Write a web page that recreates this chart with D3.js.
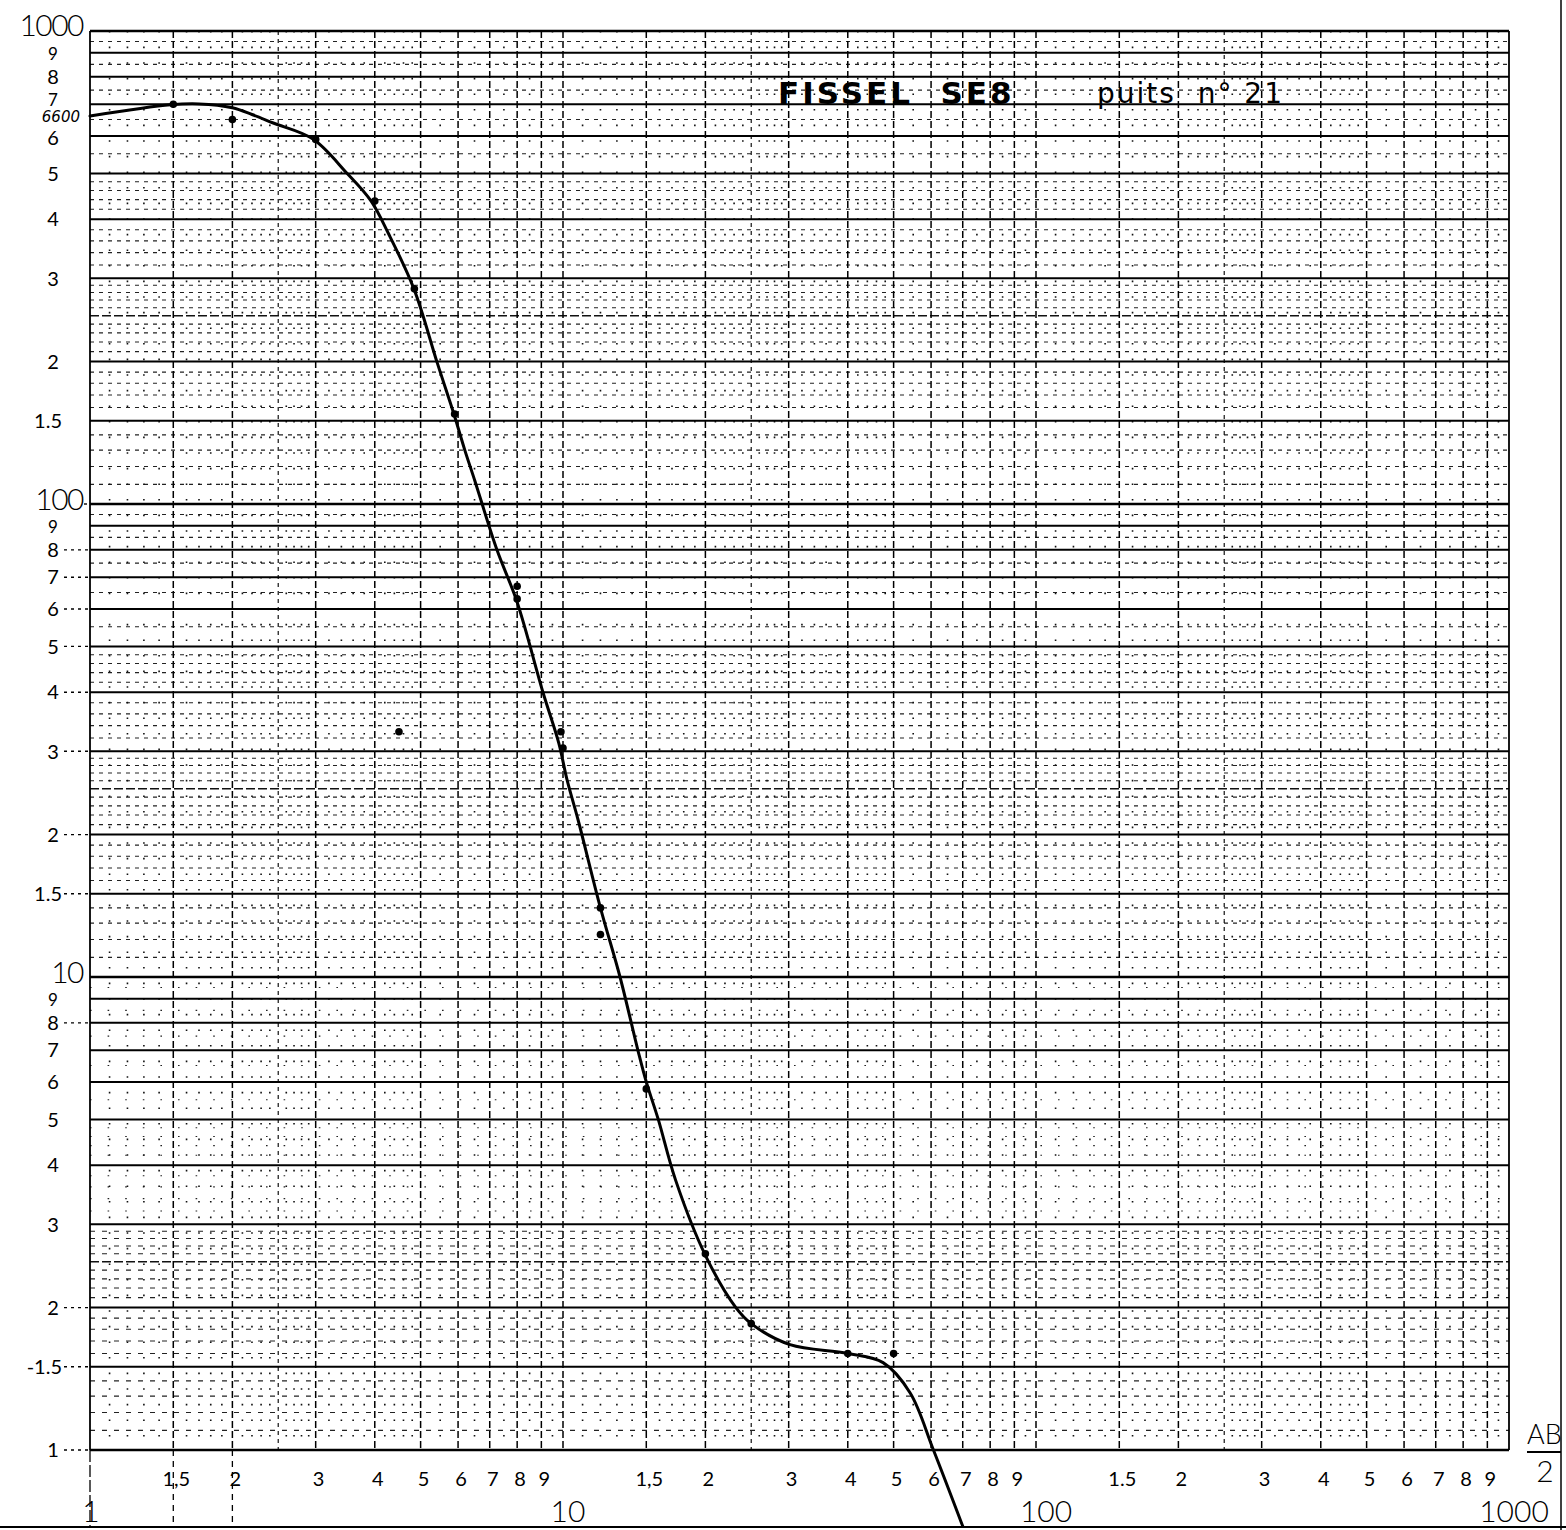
<!DOCTYPE html>
<html>
<head>
<meta charset="utf-8">
<title>FISSEL SE8 - puits n° 21</title>
<script type="text/javascript" src="https://d3js.org/d3.v7.min.js"></script>
<style>
  body { margin: 0; background: #fff; }
  svg { display: block; }
  text { white-space: pre; }
</style>
</head>
<body>
<div id="my_chart"></div>
<script type="text/javascript">
// Sounding curve (AB/2 , apparent resistivity)
var curve_x = [1, 1.48, 1.7, 2, 2.2, 2.44, 2.96, 3.49, 3.93, 4.27, 4.84, 5.42, 5.88, 6.2, 6.51, 7.25, 8, 9.07, 9.8, 10.2, 10.76,
               12, 13.2, 14.4, 15, 15.9, 17.3, 20, 23.2, 25, 30.2, 40, 47.5, 54.2, 60.7, 70];
var curve_y = [661, 698, 701, 688, 666, 639, 591, 501, 437, 374, 285, 199, 155, 130, 112, 80, 62, 40, 31.2, 26.1, 21.5,
               14, 10, 7, 6, 5, 3.72, 2.58, 2.0, 1.85, 1.67, 1.6, 1.53, 1.32, 1.0, 0.69];

// measured points
var point_x = [1.5, 2, 3, 4, 4.85, 5.9, 8, 8, 9.9, 10, 12, 12, 15, 20, 25, 40, 50, 4.5];
var point_y = [700, 650, 590, 437, 285, 155, 67, 63, 33, 30.5, 14, 12.3, 5.8, 2.6, 1.85, 1.6, 1.6, 33];

// graph paper rulings inside one decade
var major_steps = [1, 1.5, 2, 3, 4, 5, 6, 7, 8, 9];
var minor_steps = [1.1, 1.2, 1.3, 1.4, 1.6, 1.7, 1.8, 1.9, 2.1, 2.2, 2.3, 2.4, 2.6, 2.7, 2.8, 2.9,
                   3.2, 3.4, 3.6, 3.8, 4.2, 4.4, 4.6, 4.8, 5.5, 6.5, 7.5, 8.5, 9.5];
var decades = [1, 10, 100];

// tick labels
var left_digit_values = [900, 800, 700, 600, 500, 400, 300, 200, 150,
                         90, 80, 70, 60, 50, 40, 30, 20, 15,
                         9, 8, 7, 6, 5, 4, 3, 2, 1.5, 1];
var left_digit_labels = ["9", "8", "7", "6", "5", "4", "3", "2", "1.5",
                         "9", "8", "7", "6", "5", "4", "3", "2", "1.5",
                         "9", "8", "7", "6", "5", "4", "3", "2", "-1.5", "1"];
var left_big_values = [1000, 100, 10];
var left_big_labels = ["1000", "100", "10"];
var bottom_digit_values = [1.5, 2, 3, 4, 5, 6, 7, 8, 9,
                           15, 20, 30, 40, 50, 60, 70, 80, 90,
                           150, 200, 300, 400, 500, 600, 700, 800, 900];
var bottom_digit_labels = ["1,5", "2", "3", "4", "5", "6", "7", "8", "9",
                           "1,5", "2", "3", "4", "5", "6", "7", "8", "9",
                           "1.5", "2", "3", "4", "5", "6", "7", "8", "9"];
var bottom_big_values = [1, 10, 100, 1000];
var bottom_big_labels = ["1", "10", "100", "1000"];

var svg_size = {width: 1566, height: 1530};
var plot = {left: 90, right: 1509, top: 31, bottom: 1450};

var x_scale = d3.scaleLog().domain([1, 1000]).range([plot.left, plot.right]);
var y_scale = d3.scaleLog().domain([1, 1000]).range([plot.bottom, plot.top]);

var svg = d3.select('#my_chart')
            .append('svg')
            .attr('width', svg_size.width)
            .attr('height', svg_size.height);

// expand steps over the three decades
function expand(steps) {
    var out = [];
    decades.forEach(function(d) {
        steps.forEach(function(s) { out.push(+(d * s).toPrecision(4)); });
    });
    return out;
}
var majors = expand(major_steps).concat([1000]);
var minors = expand(minor_steps);
var halfs = expand([2.5]);

var grid = svg.append('g').attr('class', 'grid');

// horizontal minor rulings (dashed, sparse dots in the lowest decade)
grid.append('g').selectAll('line').data(minors).enter().append('line')
    .attr('x1', plot.left).attr('x2', plot.right)
    .attr('y1', d => y_scale(d)).attr('y2', d => y_scale(d))
    .attr('stroke', '#222').attr('stroke-width', 1.1)
    .attr('stroke-dasharray', function(d) {
        if (d < 10) return d < 3 ? '5,7' : '1.6,16';
        return '4,5';
    });

// vertical minor rulings (dotted)
grid.append('g').selectAll('line').data(minors).enter().append('line')
    .attr('x1', d => x_scale(d)).attr('x2', d => x_scale(d))
    .attr('y1', plot.top).attr('y2', plot.bottom)
    .attr('stroke', '#111').attr('stroke-width', 1.6)
    .attr('stroke-dasharray', '1.6,14');

// 2.5 rulings
grid.append('g').selectAll('line').data(halfs).enter().append('line')
    .attr('x1', plot.left).attr('x2', plot.right)
    .attr('y1', d => y_scale(d)).attr('y2', d => y_scale(d))
    .attr('stroke', '#111').attr('stroke-width', 1.4)
    .attr('stroke-dasharray', '9,3');
grid.append('g').selectAll('line').data(halfs).enter().append('line')
    .attr('x1', d => x_scale(d)).attr('x2', d => x_scale(d))
    .attr('y1', plot.top).attr('y2', plot.bottom)
    .attr('stroke', '#111').attr('stroke-width', 1.2)
    .attr('stroke-dasharray', '4,4');

// vertical major rulings (dashed)
grid.append('g').selectAll('line').data(majors).enter().append('line')
    .attr('x1', d => x_scale(d)).attr('x2', d => x_scale(d))
    .attr('y1', plot.top).attr('y2', plot.bottom)
    .attr('stroke', '#000')
    .attr('stroke-width', d => (d === 1 || d === 1000) ? 1.8 : 1.5)
    .attr('stroke-dasharray', d => (d === 1 || d === 1000) ? null : '7,3');

// horizontal major rulings (solid)
grid.append('g').selectAll('line').data(majors).enter().append('line')
    .attr('x1', plot.left).attr('x2', plot.right)
    .attr('y1', d => y_scale(d)).attr('y2', d => y_scale(d))
    .attr('stroke', '#000')
    .attr('stroke-width', d => [1, 10, 100, 1000].indexOf(d) >= 0 ? 2.6 : 2);

// rulings running below the sheet into the label strip
grid.append('g').selectAll('line').data([1, 1.5, 2]).enter().append('line')
    .attr('x1', d => x_scale(d)).attr('x2', d => x_scale(d))
    .attr('y1', plot.bottom).attr('y2', 1527)
    .attr('stroke', '#000').attr('stroke-width', 1.3)
    .attr('stroke-dasharray', d => d === 1 ? '12,3' : '6,5');

// bottom edge and right page edge
svg.append('line').attr('x1', 0).attr('x2', svg_size.width).attr('y1', 1527).attr('y2', 1527)
   .attr('stroke', '#000').attr('stroke-width', 2.2);
svg.append('line').attr('x1', 1561).attr('x2', 1561).attr('y1', 0).attr('y2', svg_size.height)
   .attr('stroke', '#000').attr('stroke-width', 1.5);

// left axis labels
var left_g = svg.append('g')
    .attr('font-family', 'Lato, "DejaVu Sans", sans-serif')
    .attr('fill', '#000');

left_g.selectAll('text.big').data(left_big_values).enter().append('text')
    .attr('class', 'big')
    .attr('x', 83)
    .attr('y', d => y_scale(d) + (d === 1000 ? -6 : -5))
    .attr('dy', '0.36em')
    .attr('text-anchor', 'end')
    .attr('font-size', 30).attr('font-weight', 300)
    .attr('letter-spacing', -1.5)
    .text((d, i) => left_big_labels[i]);

left_g.selectAll('text.dig').data(left_digit_values).enter().append('text')
    .attr('class', 'dig')
    .attr('x', (d, i) => left_digit_labels[i].length > 1 ? 62 : 53)
    .attr('y', function(d) {
        var s = d / Math.pow(10, Math.floor(Math.log10(d)));
        if (Math.abs(s - 9) < 0.01) return y_scale(d) + 1;
        if (d === 700) return y_scale(d) - 4;
        if (d === 600) return y_scale(d) + 2;
        return y_scale(d);
    })
    .attr('dy', '0.36em')
    .attr('text-anchor', (d, i) => left_digit_labels[i].length > 1 ? 'end' : 'middle')
    .attr('font-size', (d, i) => (left_digit_labels[i] === '9' || d === 700) ? 17 : 20)
    .attr('font-weight', 400)
    .text((d, i) => left_digit_labels[i]);

// dotted leaders from the middle-decade labels to the sheet
var leader_values = [100, 80, 70, 60, 50, 40, 30, 20, 15, 8, 2, 1.5, 1];
left_g.selectAll('line').data(leader_values).enter().append('line')
    .attr('x1', d => (d === 100 ? 84 : 64)).attr('x2', plot.left)
    .attr('y1', d => y_scale(d)).attr('y2', d => y_scale(d))
    .attr('stroke', '#000').attr('stroke-width', 1.4)
    .attr('stroke-dasharray', '3,4');

// handwritten value at the first electrode spacing
svg.append('text')
   .attr('x', 80).attr('y', y_scale(curve_y[0]) + 6)
   .attr('text-anchor', 'end')
   .attr('font-family', '"DejaVu Sans", sans-serif')
   .attr('font-style', 'italic')
   .attr('font-size', 15)
   .text('6600');

// bottom axis labels
var bottom_g = svg.append('g')
    .attr('font-family', 'Lato, "DejaVu Sans", sans-serif')
    .attr('fill', '#000')
    .attr('text-anchor', 'middle');

bottom_g.selectAll('text.dig').data(bottom_digit_values).enter().append('text')
    .attr('class', 'dig')
    .attr('x', d => x_scale(d) + 3)
    .attr('y', 1486)
    .attr('font-size', 20).attr('font-weight', 400)
    .text((d, i) => bottom_digit_labels[i]);

bottom_g.selectAll('text.big').data(bottom_big_values).enter().append('text')
    .attr('class', 'big')
    .attr('x', d => x_scale(d) + (d === 100 ? 10 : (d === 1 ? 1 : 5)))
    .attr('y', 1522)
    .attr('font-size', 30).attr('font-weight', 300)
    .text((d, i) => bottom_big_labels[i]);

// axis name AB/2
var ab = svg.append('g').attr('font-family', 'Lato, "DejaVu Sans", sans-serif')
    .attr('font-weight', 300).attr('font-size', 27);
ab.append('text').attr('x', 1527).attr('y', 1444).text('AB');
ab.append('line').attr('x1', 1527).attr('x2', 1561).attr('y1', 1452).attr('y2', 1452)
  .attr('stroke', '#000').attr('stroke-width', 2);
ab.append('text').attr('x', 1545).attr('y', 1482).attr('text-anchor', 'middle')
  .attr('font-size', 30).text('2');

// title
svg.append('text')
   .attr('x', 778).attr('y', 104)
   .attr('font-family', '"DejaVu Sans", sans-serif')
   .attr('font-weight', 'bold')
   .attr('font-size', 31)
   .attr('letter-spacing', 3)
   .text('FISSEL  SE8');
svg.append('text')
   .attr('x', 1097).attr('y', 103)
   .attr('font-family', '"DejaVu Sans", sans-serif')
   .attr('font-size', 28)
   .attr('letter-spacing', 2)
   .text('puits  n° 21');

// curve
var curve_data = curve_x.map((x, i) => [x, curve_y[i]]);
var line = d3.line()
    .x(d => x_scale(d[0]))
    .y(d => y_scale(d[1]))
    .curve(d3.curveCatmullRom.alpha(0.5));

svg.append('path')
   .datum(curve_data)
   .attr('d', line)
   .attr('fill', 'none')
   .attr('stroke', '#000')
   .attr('stroke-width', 3)
   .attr('stroke-linejoin', 'round')
   .attr('stroke-linecap', 'round');

// measured points
svg.append('g').selectAll('circle')
   .data(point_x.map((x, i) => [x, point_y[i]]))
   .enter().append('circle')
   .attr('cx', d => x_scale(d[0]))
   .attr('cy', d => y_scale(d[1]))
   .attr('r', 3.8)
   .attr('fill', '#000');
</script>
</body>
</html>
